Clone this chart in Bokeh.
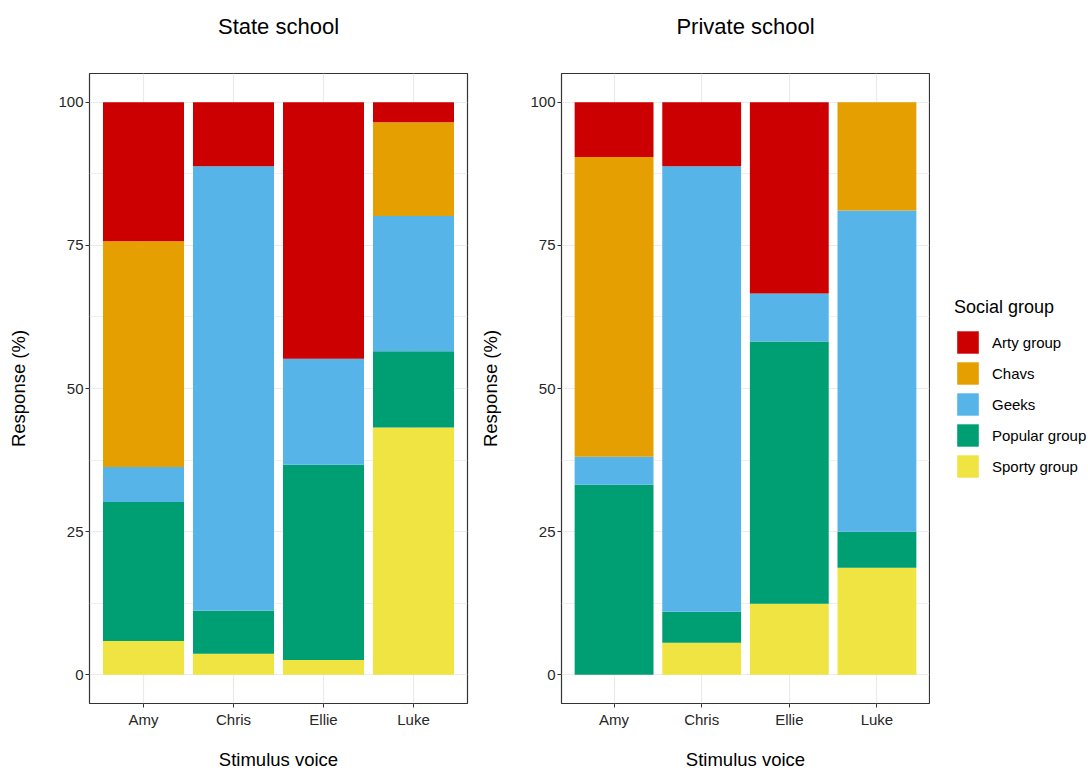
from bokeh.plotting import figure
from bokeh.models import (ColumnDataSource, FactorRange, FixedTicker, Legend,
                          LegendItem, Range1d, Title)
from bokeh.layouts import row
from bokeh.embed import file_html
from bokeh.resources import INLINE

# ---------------- data ----------------
voices = ["Amy", "Chris", "Ellie", "Luke"]
# stacking order bottom -> top
stack_keys = ["sporty", "popular", "geeks", "chavs", "arty"]
group_labels = {"arty": "Arty group", "chavs": "Chavs", "geeks": "Geeks",
                "popular": "Popular group", "sporty": "Sporty group"}
group_colors = {"arty": "#CC0000", "chavs": "#E69F00", "geeks": "#56B4E9",
                "popular": "#009E73", "sporty": "#F0E442"}
legend_order = ["arty", "chavs", "geeks", "popular", "sporty"]

state_sporty = [5.9, 3.7, 2.6, 43.2]
state_popular = [24.3, 7.5, 34.1, 13.3]
state_geeks = [6.1, 77.6, 18.5, 23.6]
state_chavs = [39.4, 0.0, 0.0, 16.4]
state_arty = [24.3, 11.2, 44.8, 3.5]

private_sporty = [0.0, 5.6, 12.4, 18.7]
private_popular = [33.2, 5.4, 45.8, 6.3]
private_geeks = [4.9, 77.8, 8.4, 56.1]
private_chavs = [52.3, 0.0, 0.0, 18.9]
private_arty = [9.6, 11.2, 33.4, 0.0]

y_ticks = [0, 25, 50, 75, 100]
y_minor = [12.5, 37.5, 62.5, 87.5]

FONT = "Liberation Sans"
H = 772
state_data = dict(sporty=state_sporty, popular=state_popular,
                  geeks=state_geeks, chavs=state_chavs, arty=state_arty)
private_data = dict(sporty=private_sporty, popular=private_popular,
                    geeks=private_geeks, chavs=private_chavs, arty=private_arty)


def make_panel(title, data, width, b_left, b_right):
    src = ColumnDataSource(dict(voice=voices, **data))
    p = figure(x_range=FactorRange(factors=voices, range_padding=0.1,
                                   range_padding_units="absolute"),
               y_range=Range1d(-5, 105), width=width, height=H,
               output_backend="svg", toolbar_location=None,
               min_border_left=b_left, min_border_right=b_right,
               min_border_top=73, min_border_bottom=H - 703)
    p.vbar_stack(stack_keys, x="voice", width=0.9, source=src,
                 color=[group_colors[k] for k in stack_keys],
                 line_color=None)
    # spacer between frame and title, then the title itself
    p.add_layout(Title(text=" ", text_font_size="10px", standoff=22), "above")
    p.add_layout(Title(text=title, align="center", text_font=FONT,
                       text_font_size="22px", text_font_style="normal",
                       text_color="black", standoff=0), "above")

    p.outline_line_color = "#333333"
    p.outline_line_width = 1.2
    p.background_fill_color = "white"

    p.yaxis.ticker = FixedTicker(ticks=y_ticks, minor_ticks=y_minor)
    for ax in (p.xaxis[0], p.yaxis[0]):
        ax.axis_line_color = None
        ax.major_tick_out = 4
        ax.major_tick_in = 0
        ax.minor_tick_out = 0
        ax.minor_tick_in = 0
        ax.major_tick_line_color = "#333333"
        ax.major_label_text_font = FONT
        ax.major_label_text_font_size = "15px"
        ax.major_label_text_color = "#262626"
        ax.axis_label_text_font = FONT
        ax.axis_label_text_font_size = "18.5px"
        ax.axis_label_text_font_style = "normal"
        ax.axis_label_text_color = "black"
    p.yaxis.major_label_standoff = 2
    p.yaxis.axis_label = "Response (%)"
    p.yaxis.axis_label_standoff = 26
    p.xaxis.major_label_standoff = 3
    p.xaxis.axis_label = "Stimulus voice"
    p.xaxis.axis_label_standoff = 18

    p.xgrid.grid_line_color = "#EBEBEB"
    p.xgrid.grid_line_width = 1.2
    p.ygrid.grid_line_color = "#EBEBEB"
    p.ygrid.grid_line_width = 1.2
    p.ygrid.minor_grid_line_color = "#EBEBEB"
    p.ygrid.minor_grid_line_width = 0.8
    return p


p1 = make_panel("State school", state_data, width=477, b_left=89, b_right=10)
p2 = make_panel("Private school", private_data, width=453, b_left=84,
                b_right=1)

# legend panel (renderers hidden; only their legend swatches are shown)
p3 = figure(x_range=FactorRange(factors=voices), y_range=Range1d(-5, 105),
            width=158, height=H, output_backend="svg", toolbar_location=None,
            x_axis_location=None, y_axis_location=None,
            min_border_left=0, min_border_right=0, min_border_top=0,
            min_border_bottom=0)
p3.outline_line_color = None
p3.grid.visible = False
src3 = ColumnDataSource(dict(voice=voices, **private_data))
rs3 = p3.vbar_stack(stack_keys, x="voice", width=0.9, source=src3,
                    color=[group_colors[k] for k in stack_keys],
                    line_color=None)
for r in rs3:
    r.visible = False
rmap = dict(zip(stack_keys, rs3))

legend = Legend(items=[LegendItem(label=group_labels[k], renderers=[rmap[k]])
                       for k in legend_order],
                location=(24, 223), margin=0, padding=0,
                title="Social group", title_text_font=FONT,
                title_text_font_size="18px", title_text_font_style="normal",
                title_text_color="black", title_standoff=10,
                label_text_font=FONT, label_text_font_size="15px",
                label_text_color="black", label_standoff=11,
                glyph_width=27, glyph_height=28, spacing=3, label_height=28,
                border_line_color=None, background_fill_alpha=0)
p3.add_layout(legend, "center")

layout = row(p1, p2, p3)
open("out.html", "w").write(file_html(layout, INLINE))
